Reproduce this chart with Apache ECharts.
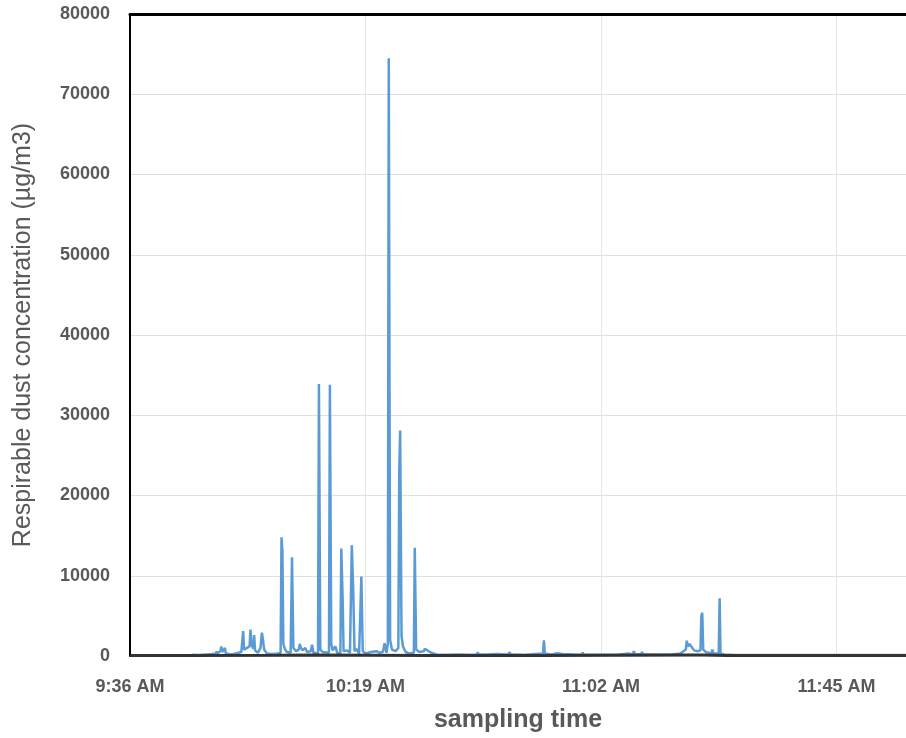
<!DOCTYPE html>
<html>
<head>
<meta charset="utf-8">
<script src="https://cdn.jsdelivr.net/npm/echarts@6/dist/echarts.min.js"></script>
<style>
  html, body { margin: 0; padding: 0; background: #fff; }
  #chart { width: 906px; height: 738px; }
</style>
</head>
<body>
<div id="chart"></div>
<script>
// 起始时间 9:36 AM，x 轴按分钟计（右端被图片裁掉，约 11:57:42）
var startTime = '09:36:00';
var axisMinutes = [0, 141.7];
var tickStep = 43;

// 蓝线：呼吸性粉尘浓度
var blueTimes = [
	'09:47:15','09:48:30','09:50:00','09:51:00','09:51:40','09:51:50','09:52:00','09:52:30','09:52:40','09:52:50',
	'09:53:10','09:53:20','09:53:30','09:54:30','09:55:30','09:56:20','09:56:40','09:56:50','09:57:10','09:57:50',
	'09:58:00','09:58:10','09:58:30','09:58:40','09:58:50','09:59:20','09:59:50','10:00:05','10:00:15','10:00:30',
	'10:01:00','10:02:00','10:03:00','10:03:30','10:03:40','10:03:50','10:04:00','10:04:20','10:04:40','10:05:20',
	'10:05:35','10:05:50','10:06:20','10:06:50','10:07:00','10:07:10','10:07:30','10:08:00','10:08:20','10:09:00',
	'10:09:15','10:09:30','10:10:20','10:10:30','10:10:45','10:11:10','10:12:20','10:12:30','10:12:45','10:13:00',
	'10:13:30','10:13:50','10:14:25','10:14:35','10:14:50','10:15:00','10:15:40','10:16:10','10:16:30','10:16:45',
	'10:17:00','10:17:20','10:17:50','10:18:15','10:18:30','10:19:00','10:20:00','10:21:00','10:21:30','10:22:10',
	'10:22:30','10:22:50','10:23:05','10:23:15','10:23:30','10:23:50','10:24:30','10:25:00','10:25:10','10:25:20',
	'10:25:35','10:25:50','10:26:20','10:27:00','10:27:50','10:28:00','10:28:15','10:28:50','10:29:40','10:29:50',
	'10:30:10','10:31:00','10:32:00','10:34:00','10:36:00','10:38:00','10:39:20','10:39:30','10:39:40','10:41:00',
	'10:43:00','10:45:00','10:45:20','10:45:30','10:46:30','10:48:00','10:50:00','10:51:25','10:51:35','10:51:45',
	'10:53:00','10:54:00','10:55:00','10:57:00','10:58:30','10:58:40','10:58:50','10:59:30','11:02:00','11:05:00',
	'11:07:00','11:07:50','11:08:00','11:08:10','11:08:30','11:09:20','11:09:30','11:09:40','11:10:30','11:13:00',
	'11:15:00','11:16:30','11:17:30','11:17:40','11:17:50','11:18:10','11:18:30','11:19:00','11:19:40','11:20:10',
	'11:20:20','11:20:30','11:20:40','11:21:10','11:22:10','11:22:20','11:22:30','11:23:30','11:23:40','11:23:50',
	'11:24:30','11:26:00','11:30:00','11:40:00','11:50:00','11:58:00'
];
var blueValues = [
	150,120,200,250,300,550,300,600,1200,500,
	400,1000,300,200,350,500,3100,800,600,1200,
	3300,1500,900,2600,700,400,1000,2900,2200,800,
	300,250,300,400,14800,13000,1500,800,500,400,
	12300,1000,600,800,1500,1100,700,1000,500,600,
	1400,400,300,33900,800,500,400,33800,1500,700,
	1200,400,300,13400,7000,600,700,400,13800,8500,
	600,900,300,9900,600,300,500,600,400,500,
	1600,400,1500,74500,2000,800,600,1000,23000,28100,
	2500,1200,500,300,400,13500,800,500,600,900,
	700,400,200,150,200,150,200,450,200,200,
	250,200,450,200,200,150,250,300,1950,300,
	200,350,250,200,150,450,150,150,150,150,
	300,200,600,250,250,200,500,200,200,150,
	200,300,800,1900,1200,1500,1300,700,600,700,
	5000,5400,800,500,300,800,300,300,7200,300,
	200,150,120,120,120,120
];

// 黑线：贴近零值
var blackTimes = ['09:36:00','09:47:00','10:03:00','10:10:00','10:20:00','10:30:00','10:51:00','11:17:00','11:21:00','11:25:00','11:58:00'];
var blackValues = [60, 60, 90, 110, 90, 70, 50, 130, 130, 50, 50];

var yMax = 80000;
var yStep = 10000;

// 时间字符串 -> 距起始时间的分钟数
function toMinutes(s) {
	var p = s.split(':');
	var q = startTime.split(':');
	return (p[0] * 60 + p[1] * 1 + p[2] / 60) - (q[0] * 60 + q[1] * 1);
}
function pairs(times, values) {
	var out = [];
	for (var i = 0; i < times.length; i++) {
		out.push([toMinutes(times[i]), values[i]]);
	}
	return out;
}
function timeLabel(m) {
	var q = startTime.split(':');
	var total = q[0] * 60 + q[1] * 1 + Math.round(m);
	var h = Math.floor(total / 60), mm = total % 60;
	var ap = h >= 12 ? 'PM' : 'AM';
	var hh = h > 12 ? h - 12 : h;
	return hh + ':' + (mm < 10 ? '0' + mm : mm) + ' ' + ap;
}

var labelColor = '#595959';
var chart = echarts.init(document.getElementById('chart'));
var option = {
	backgroundColor : '#fff',
	animation : false,
	grid : {
		left : 130,
		right : 0,
		top : 14,
		bottom : 79
	},
	xAxis : [ {
		type : 'value',
		min : axisMinutes[0],
		max : axisMinutes[1],
		interval : tickStep,
		name : 'sampling time',
		nameLocation : 'middle',
		nameGap : 52,
		nameTextStyle : {
			color : labelColor,
			fontSize : 25,
			fontWeight : 'bold',
			fontFamily : 'Liberation Sans'
		},
		axisLine : { show : false },
		axisTick : { show : false },
		axisLabel : {
			color : labelColor,
			fontSize : 18,
			fontWeight : 'bold',
			fontFamily : 'Liberation Sans',
			margin : 22,
			showMaxLabel : false,
			formatter : function(v) { return timeLabel(v); }
		},
		splitLine : { show : true, lineStyle : { color : '#e6e6e6', width : 1 } }
	}, {
		type : 'value',
		position : 'top',
		min : axisMinutes[0],
		max : axisMinutes[1],
		axisLine : { show : true, onZero : false, lineStyle : { color : '#000', width : 3 } },
		axisTick : { show : false },
		axisLabel : { show : false },
		splitLine : { show : false }
	} ],
	yAxis : {
		type : 'value',
		min : 0,
		max : yMax,
		interval : yStep,
		name : 'Respirable dust concentration (µg/m3)',
		nameLocation : 'middle',
		nameGap : 94,
		nameTextStyle : {
			color : labelColor,
			fontSize : 25,
			fontFamily : 'Liberation Sans'
		},
		axisLine : { show : true, lineStyle : { color : '#000', width : 2 } },
		axisTick : { show : false },
		axisLabel : {
			color : labelColor,
			fontSize : 18,
			fontWeight : 'bold',
			fontFamily : 'Liberation Sans',
			margin : 20,
			formatter : function(v) { return String(v); }
		},
		splitLine : { show : true, lineStyle : { color : '#e0e0e0', width : 1 } }
	},
	series : [ {
		name : 'blue',
		type : 'line',
		data : pairs(blueTimes, blueValues),
		showSymbol : false,
		symbol : 'none',
		lineStyle : { color : '#5B9BD5', width : 2.5 },
		z : 2
	}, {
		name : 'black',
		type : 'line',
		data : pairs(blackTimes, blackValues),
		showSymbol : false,
		symbol : 'none',
		lineStyle : { color : '#333333', width : 3 },
		z : 3
	} ]
};
chart.setOption(option);
</script>
</body>
</html>
